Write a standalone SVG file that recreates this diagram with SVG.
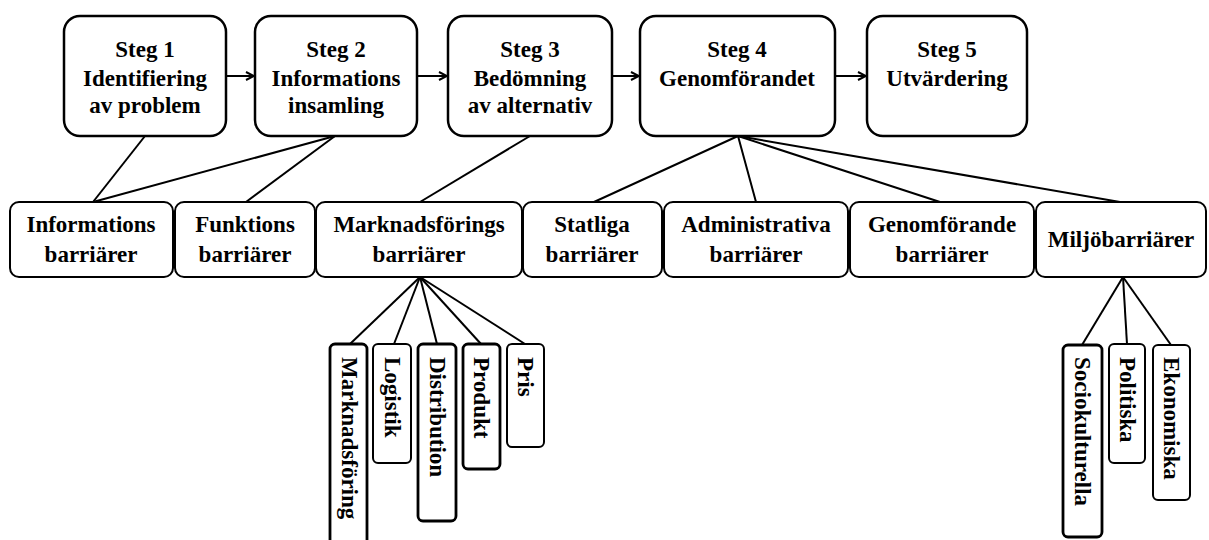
<svg xmlns="http://www.w3.org/2000/svg" width="1209" height="540" viewBox="0 0 1209 540">
<style>
text{font-family:'Liberation Serif',serif;font-weight:bold;font-size:23px;fill:#000;text-anchor:middle}
.vt{text-anchor:start;dominant-baseline:central}
.top{fill:#fff;stroke:#000;stroke-width:2.5}
.mid{fill:#fff;stroke:#000;stroke-width:2}
.v{fill:#fff;stroke:#000;stroke-width:2}
.vb{fill:#fff;stroke:#000;stroke-width:2.8}
.c line{stroke:#000;stroke-width:2}
</style>
<defs>
<marker id="ah" viewBox="0 0 10 10" refX="9" refY="5" markerWidth="10" markerHeight="10" markerUnits="userSpaceOnUse" orient="auto">
<path d="M1,1 L9,5 L1,9" fill="none" stroke="#000" stroke-width="2"/>
</marker>
</defs>
<rect width="1209" height="540" fill="#fff"/>
<g class="c" id="connectors">
<line x1="226" y1="76" x2="254" y2="76" marker-end="url(#ah)"/>
<line x1="417" y1="76" x2="447" y2="76" marker-end="url(#ah)"/>
<line x1="612" y1="76" x2="639" y2="76" marker-end="url(#ah)"/>
<line x1="835" y1="76" x2="866" y2="76" marker-end="url(#ah)"/>
<line x1="145" y1="136" x2="93" y2="202"/>
<line x1="335" y1="136" x2="93" y2="202"/>
<line x1="335" y1="136" x2="246" y2="202"/>
<line x1="530" y1="136" x2="420" y2="202"/>
<line x1="738" y1="136" x2="594" y2="202"/>
<line x1="738" y1="136" x2="756" y2="202"/>
<line x1="738" y1="136" x2="940" y2="202"/>
<line x1="738" y1="136" x2="1120" y2="202"/>
<line x1="420" y1="277" x2="350" y2="344"/>
<line x1="420" y1="277" x2="394" y2="344"/>
<line x1="420" y1="277" x2="437" y2="344"/>
<line x1="420" y1="277" x2="481" y2="344"/>
<line x1="420" y1="277" x2="525" y2="344"/>
<line x1="1123" y1="277" x2="1082" y2="345"/>
<line x1="1123" y1="277" x2="1127" y2="344"/>
<line x1="1123" y1="277" x2="1171" y2="345"/>
</g>
<g id="steg1"><rect class="top" x="64" y="16" width="162" height="120" rx="16"/><text x="145" y="57">Steg 1</text><text x="145" y="86">Identifiering</text><text x="145" y="113">av problem</text></g>
<g id="steg2"><rect class="top" x="255" y="16" width="162" height="120" rx="16"/><text x="336" y="57">Steg 2</text><text x="336" y="86">Informations</text><text x="336" y="113">insamling</text></g>
<g id="steg3"><rect class="top" x="448" y="16" width="164" height="120" rx="16"/><text x="530" y="57">Steg 3</text><text x="530" y="86">Bedömning</text><text x="530" y="113">av alternativ</text></g>
<g id="steg4"><rect class="top" x="640" y="16" width="195" height="120" rx="16"/><text x="737" y="57">Steg 4</text><text x="737" y="86">Genomförandet</text></g>
<g id="steg5"><rect class="top" x="867" y="16" width="160" height="120" rx="16"/><text x="947" y="57">Steg 5</text><text x="947" y="86">Utvärdering</text></g>
<g id="informations"><rect class="mid" x="10" y="202" width="163" height="75" rx="9"/><text x="91" y="232">Informations</text><text x="91" y="262">barriärer</text></g>
<g id="funktions"><rect class="mid" x="175" y="202" width="140" height="75" rx="9"/><text x="245" y="232">Funktions</text><text x="245" y="262">barriärer</text></g>
<g id="marknadsforings"><rect class="mid" x="316" y="202" width="206" height="75" rx="9"/><text x="419" y="232">Marknadsförings</text><text x="419" y="262">barriärer</text></g>
<g id="statliga"><rect class="mid" x="523" y="202" width="139" height="75" rx="9"/><text x="592" y="232">Statliga</text><text x="592" y="262">barriärer</text></g>
<g id="administrativa"><rect class="mid" x="664" y="202" width="184" height="75" rx="9"/><text x="756" y="232">Administrativa</text><text x="756" y="262">barriärer</text></g>
<g id="genomforande"><rect class="mid" x="850" y="202" width="184" height="75" rx="9"/><text x="942" y="232">Genomförande</text><text x="942" y="262">barriärer</text></g>
<g id="miljo"><rect class="mid" x="1036" y="202" width="170" height="75" rx="9"/><text x="1121" y="247">Miljöbarriärer</text></g>
<g id="marknadsforing"><rect class="vb" x="330" y="344" width="37" height="210" rx="5"/><text class="vt" transform="translate(349,357) rotate(90)">Marknadsföring</text></g>
<g id="logistik"><rect class="v" x="373" y="344" width="38" height="119" rx="5"/><text class="vt" transform="translate(392,357) rotate(90)">Logistik</text></g>
<g id="distribution"><rect class="vb" x="418" y="344" width="38" height="177" rx="5"/><text class="vt" transform="translate(437,357) rotate(90)">Distribution</text></g>
<g id="produkt"><rect class="vb" x="463" y="344" width="37" height="125" rx="5"/><text class="vt" transform="translate(481,357) rotate(90)">Produkt</text></g>
<g id="pris"><rect class="v" x="507" y="344" width="37" height="103" rx="5"/><text class="vt" transform="translate(525,357) rotate(90)">Pris</text></g>
<g id="sociokulturella"><rect class="vb" x="1063" y="345" width="39" height="192" rx="5"/><text class="vt" transform="translate(1082,357) rotate(90)">Sociokulturella</text></g>
<g id="politiska"><rect class="v" x="1109" y="344" width="36" height="119" rx="5"/><text class="vt" transform="translate(1127,357) rotate(90)">Politiska</text></g>
<g id="ekonomiska"><rect class="v" x="1153" y="345" width="37" height="155" rx="5"/><text class="vt" transform="translate(1171,357) rotate(90)">Ekonomiska</text></g>
</svg>
